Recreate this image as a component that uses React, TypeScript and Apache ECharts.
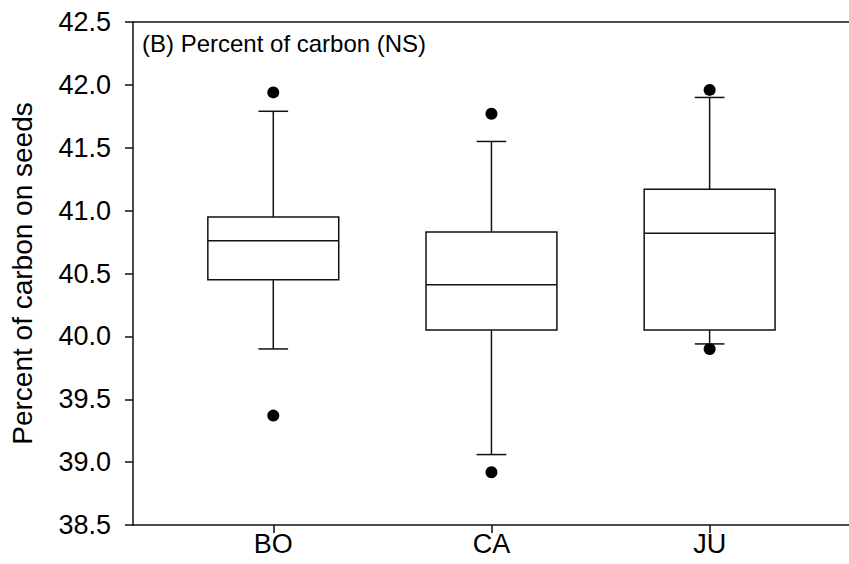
import React, { useEffect, useRef } from "react";
import * as echarts from "echarts";

const categories = ["BO", "CA", "JU"];
const positions = [1, 2, 3];
// [lowerWhisker, Q1, median, Q3, upperWhisker]
const boxStats = [
  [39.9, 40.45, 40.76, 40.95, 41.79],
  [39.06, 40.05, 40.41, 40.83, 41.55],
  [39.94, 40.05, 40.82, 41.17, 41.9],
];
const outliers = [
  [1, 41.94],
  [1, 39.37],
  [2, 41.77],
  [2, 38.92],
  [3, 41.96],
  [3, 39.9],
];
const yMin = 38.5;
const yMax = 42.5;
const titleText = "(B) Percent of carbon (NS)";
const yAxisName = "Percent of carbon on seeds";

const FONT = "'Liberation Sans', Arial, sans-serif";
const LINE = "#111";

export default function App() {
  const ref = useRef<HTMLDivElement>(null);
  useEffect(() => {
    if (!ref.current) return;
    const chart = echarts.init(ref.current, null, { renderer: "svg" });
    const boxData = positions.map((p, i) => [p, ...boxStats[i]]);
    const option = {
      animation: false,
      backgroundColor: "#fff",
      grid: { left: 133, right: 29, top: 22, bottom: 39, containLabel: false },
      xAxis: {
        type: "value",
        min: 0.357,
        max: 3.648,
        position: "bottom",
        splitLine: { show: false },
        axisLine: { show: true, onZero: false, lineStyle: { color: LINE, width: 1.5 } },
        axisTick: {
          show: true,
          customValues: positions,
          length: 8,
          inside: false,
          lineStyle: { color: LINE, width: 1.5 },
        },
        axisLabel: {
          customValues: positions,
          formatter: (v: number) => categories[Math.round(v) - 1] ?? "",
          fontFamily: FONT,
          fontSize: 27,
          color: "#000",
          margin: 5,
        },
      },
      yAxis: {
        type: "value",
        min: yMin,
        max: yMax,
        interval: 0.5,
        splitLine: { show: false },
        axisLine: { show: true, onZero: false, lineStyle: { color: LINE, width: 1.5 } },
        axisTick: { show: true, length: 8, lineStyle: { color: LINE, width: 1.5 } },
        axisLabel: {
          formatter: (v: number) => v.toFixed(1),
          fontFamily: FONT,
          fontSize: 27,
          color: "#000",
          margin: 22,
        },
        name: yAxisName,
        nameLocation: "middle",
        nameRotate: 90,
        nameGap: 97,
        nameTextStyle: { fontFamily: FONT, fontSize: 28, color: "#000" },
      },
      graphic: [
        {
          type: "text",
          left: 142,
          top: 31,
          style: { text: titleText, font: `24px ${FONT}`, fill: "#000" },
        },
      ],
      series: [
        {
          type: "custom",
          data: boxData,
          encode: { x: 0, y: [1, 2, 3, 4, 5] },
          renderItem: (params: any, api: any) => {
            const x = api.value(0);
            const lo = api.value(1);
            const q1 = api.value(2);
            const med = api.value(3);
            const q3 = api.value(4);
            const hi = api.value(5);
            const boxHalf = api.size([0.6, 0])[0] / 2;
            const capHalf = api.size([0.136, 0])[0] / 2;
            const pLo = api.coord([x, lo]);
            const pQ1 = api.coord([x, q1]);
            const pMed = api.coord([x, med]);
            const pQ3 = api.coord([x, q3]);
            const pHi = api.coord([x, hi]);
            const cx = pLo[0];
            const style = { stroke: LINE, lineWidth: 1.5, fill: null };
            return {
              type: "group",
              children: [
                { type: "line", shape: { x1: cx, y1: pHi[1], x2: cx, y2: pQ3[1] }, style },
                { type: "line", shape: { x1: cx, y1: pQ1[1], x2: cx, y2: pLo[1] }, style },
                { type: "line", shape: { x1: cx - capHalf, y1: pHi[1], x2: cx + capHalf, y2: pHi[1] }, style },
                { type: "line", shape: { x1: cx - capHalf, y1: pLo[1], x2: cx + capHalf, y2: pLo[1] }, style },
                {
                  type: "rect",
                  shape: { x: cx - boxHalf, y: pQ3[1], width: boxHalf * 2, height: pQ1[1] - pQ3[1] },
                  style: { stroke: LINE, lineWidth: 1.5, fill: "#fff" },
                },
                { type: "line", shape: { x1: cx - boxHalf, y1: pMed[1], x2: cx + boxHalf, y2: pMed[1] }, style },
              ],
            };
          },
          z: 2,
        },
        {
          type: "scatter",
          data: outliers,
          symbol: "circle",
          symbolSize: 12,
          itemStyle: { color: "#000", opacity: 1 },
          z: 3,
          markLine: {
            silent: true,
            symbol: ["none", "none"],
            label: { show: false },
            lineStyle: { color: LINE, width: 1.5, type: "solid", opacity: 1 },
            data: [{ yAxis: yMax }],
          },
        },
      ],
    };
    chart.setOption(option as any);
    return () => chart.dispose();
  }, []);
  return (
    <div style={{ width: 849, height: 564, position: "absolute", left: 0, top: 0, overflow: "hidden", background: "#fff" }}>
      <div ref={ref} style={{ width: 880, height: 564 }} />
    </div>
  );
}
